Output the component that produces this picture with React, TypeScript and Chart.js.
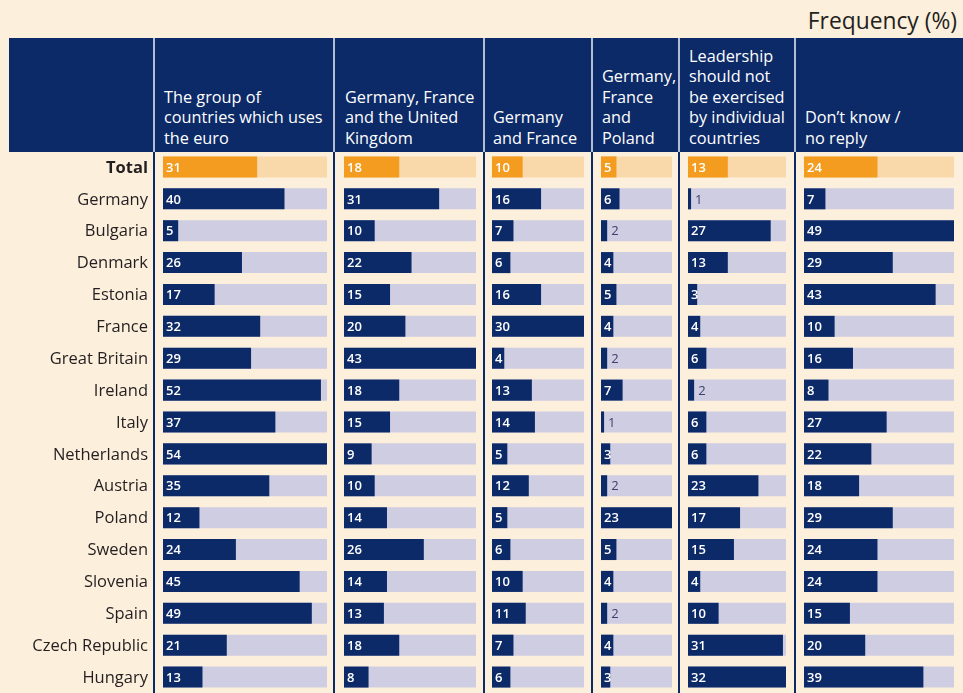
import React, { useEffect, useRef } from "react";
import { Chart, registerables } from "chart.js";

Chart.register(...registerables);

// ---------- data ----------
const countries = [
  "Total",
  "Germany",
  "Bulgaria",
  "Denmark",
  "Estonia",
  "France",
  "Great Britain",
  "Ireland",
  "Italy",
  "Netherlands",
  "Austria",
  "Poland",
  "Sweden",
  "Slovenia",
  "Spain",
  "Czech Republic",
  "Hungary",
];

const euroGroup = [31, 40, 5, 26, 17, 32, 29, 52, 37, 54, 35, 12, 24, 45, 49, 21, 13];
const germanyFranceUK = [18, 31, 10, 22, 15, 20, 43, 18, 15, 9, 10, 14, 26, 14, 13, 18, 8];
const germanyFrance = [10, 16, 7, 6, 16, 30, 4, 13, 14, 5, 12, 5, 6, 10, 11, 7, 6];
const germanyFrancePoland = [5, 6, 2, 4, 5, 4, 2, 7, 1, 3, 2, 23, 5, 4, 2, 4, 3];
const noIndividualCountries = [13, 1, 27, 13, 3, 4, 6, 2, 6, 6, 23, 17, 15, 4, 10, 31, 32];
const dontKnow = [24, 7, 49, 29, 43, 10, 16, 8, 27, 22, 18, 29, 24, 24, 15, 20, 39];

const columnHeaders = [
  ["The group of", "countries which uses", "the euro"],
  ["Germany, France", "and the United", "Kingdom"],
  ["Germany", "and France"],
  ["Germany,", "France", "and", "Poland"],
  ["Leadership", "should not", "be exercised", "by individual", "countries"],
  ["Don\u2019t know /", "no reply"],
];

const unitLabel = "Frequency (%)";

const series = [
  euroGroup,
  germanyFranceUK,
  germanyFrance,
  germanyFrancePoland,
  noIndividualCountries,
  dontKnow,
];

// ---------- layout / style ----------
const FONT = "'Open Sans', 'Noto Sans', sans-serif";
const NAVY = "#0c2a68";
const TRACK = "#cfcde2";
const ORANGE = "#f39c1f";
const ORANGE_LIGHT = "#f9d8a9";
const CREAM = "#fcefdc";
const TEXT = "#231f20";

const DIVIDERS = [154, 334, 484, 592, 679, 795];
const BAR_LEFT = [163, 344, 492, 601, 688, 804];
const TRACK_W = [164, 132, 92, 71, 98, 150];
const BODY_TOP = 151;
const BODY_H = 542;

const valueLabels = {
  id: "valueLabels",
  afterDatasetsDraw(chart: any) {
    const meta = chart.getDatasetMeta(0);
    const data = chart.data.datasets[0].data as number[];
    const ctx = chart.ctx;
    ctx.save();
    ctx.textBaseline = "middle";
    ctx.textAlign = "left";
    meta.data.forEach((bar: any, i: number) => {
      const v = data[i];
      const { x, y, base } = bar.getProps(["x", "y", "base"], true);
      if (v <= 2) {
        ctx.fillStyle = "#3d4170";
        ctx.font = `500 13px ${FONT}`;
        ctx.fillText(String(v), x + 4, y + 1);
      } else {
        ctx.fillStyle = "#ffffff";
        ctx.font = `600 13px ${FONT}`;
        ctx.fillText(String(v), base + 3, y + 1);
      }
    });
    ctx.restore();
  },
};

const rowLabels = {
  id: "rowLabels",
  afterDraw(chart: any, _args: any, opts: any) {
    if (!opts || !opts.show) return;
    const yScale = chart.scales.y;
    const ctx = chart.ctx;
    ctx.save();
    ctx.textAlign = "right";
    ctx.textBaseline = "middle";
    ctx.fillStyle = TEXT;
    (chart.data.labels as string[]).forEach((label, i) => {
      ctx.font = `${i === 0 ? "bold" : "normal"} 16.5px ${FONT}`;
      ctx.fillText(label, chart.chartArea.left - 15, yScale.getPixelForValue(i) + 1);
    });
    ctx.restore();
  },
};

function BarColumn({ values, col }: { values: number[]; col: number }) {
  const ref = useRef<HTMLCanvasElement | null>(null);
  const withLabels = col === 0;
  const left = withLabels ? 0 : BAR_LEFT[col];
  const width = withLabels ? BAR_LEFT[0] + TRACK_W[0] : TRACK_W[col];

  useEffect(() => {
    if (!ref.current) return;
    const max = Math.max(...values);
    const chart = new Chart(ref.current, {
      type: "bar",
      data: {
        labels: countries,
        datasets: [
          {
            data: values,
            backgroundColor: countries.map((_, i) => (i === 0 ? ORANGE : NAVY)),
            order: 0,
            grouped: false,
            barPercentage: 0.66,
            categoryPercentage: 1,
            borderWidth: 0,
          } as any,
          {
            data: countries.map(() => max),
            backgroundColor: countries.map((_, i) => (i === 0 ? ORANGE_LIGHT : TRACK)),
            order: 1,
            grouped: false,
            barPercentage: 0.66,
            categoryPercentage: 1,
            borderWidth: 0,
          } as any,
        ],
      },
      options: {
        indexAxis: "y",
        animation: false,
        responsive: false,
        devicePixelRatio: 1,
        layout: { padding: { left: withLabels ? BAR_LEFT[0] : 0, right: 0, top: 0, bottom: 0 } },
        plugins: {
          legend: { display: false },
          tooltip: { enabled: false },
          rowLabels: { show: withLabels },
        },
        scales: {
          x: { display: false, min: 0, max },
          y: { display: false },
        },
      } as any,
      plugins: [valueLabels, rowLabels],
    });
    return () => chart.destroy();
  }, [values, col]);

  return (
    <canvas
      ref={ref}
      width={width}
      height={BODY_H}
      style={{ position: "absolute", left, top: BODY_TOP, width, height: BODY_H }}
    />
  );
}

export default function App() {
  return (
    <div
      style={{
        position: "absolute",
        left: 0,
        top: 0,
        width: 963,
        height: 693,
        background: CREAM,
        overflow: "hidden",
        fontFamily: FONT,
      }}
    >
      <div
        style={{
          position: "absolute",
          right: 6,
          top: 6,
          fontSize: 22.8,
          color: TEXT,
          lineHeight: "30px",
        }}
      >
        {unitLabel}
      </div>

      {/* header band */}
      <div
        style={{
          position: "absolute",
          left: 9,
          top: 38,
          width: 954,
          height: 114,
          background: NAVY,
        }}
      />
      {DIVIDERS.map((x, i) => (
        <div
          key={"hs" + i}
          style={{
            position: "absolute",
            left: x - 1,
            top: 38,
            width: 2,
            height: 114,
            background: "#b4bdd6",
          }}
        />
      ))}
      {columnHeaders.map((lines, i) => (
        <div
          key={"h" + i}
          style={{
            position: "absolute",
            left: BAR_LEFT[i] + 1,
            top: 38,
            height: 114,
            width: 170,
            display: "flex",
            flexDirection: "column",
            justifyContent: "flex-end",
            paddingBottom: 4,
            boxSizing: "border-box",
            color: "#ffffff",
            fontSize: 16.3,
            lineHeight: "20.4px",
            whiteSpace: "nowrap",
          }}
        >
          {lines.map((l, j) => (
            <div key={j}>{l}</div>
          ))}
        </div>
      ))}

      {/* bar columns */}
      {series.map((s, i) => (
        <BarColumn key={i} values={s} col={i} />
      ))}

      {/* body dividers */}
      {DIVIDERS.map((x, i) => (
        <div
          key={"bd" + i}
          style={{
            position: "absolute",
            left: x - 1,
            top: 152,
            width: 2,
            height: 541,
            background: NAVY,
          }}
        />
      ))}
    </div>
  );
}
